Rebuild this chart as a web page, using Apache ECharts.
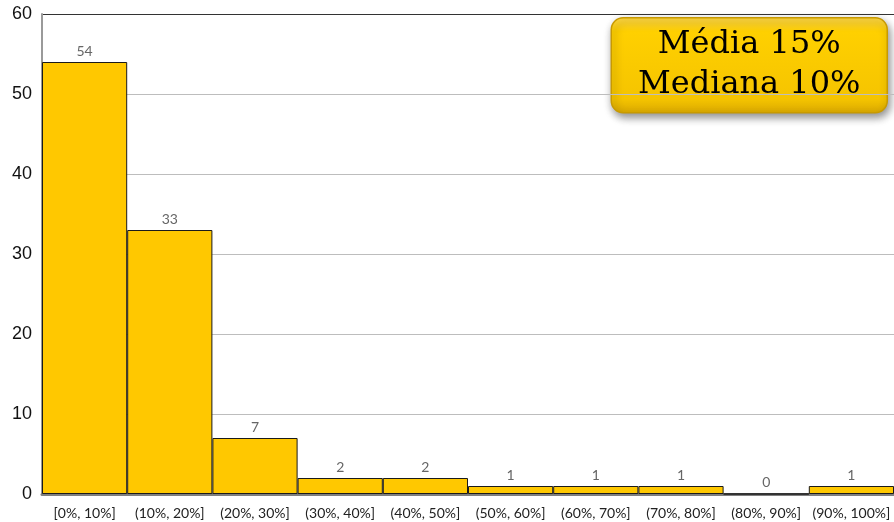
<!DOCTYPE html>
<html>
<head>
<meta charset="utf-8">
<script src="https://cdn.jsdelivr.net/npm/echarts@6/dist/echarts.min.js"></script>
<style>
  html, body { margin: 0; padding: 0; background: #fff; }
  #chart { width: 894px; height: 522px; }
</style>
</head>
<body>
<div id="chart"></div>
<script>
// --- Data ---
const bins = ["[0%, 10%]", "(10%, 20%]", "(20%, 30%]", "(30%, 40%]", "(40%, 50%]",
  "(50%, 60%]", "(60%, 70%]", "(70%, 80%]", "(80%, 90%]", "(90%, 100%]"];
const counts = [54, 33, 7, 2, 2, 1, 1, 1, 0, 1];
const yTicks = [0, 10, 20, 30, 40, 50, 60];
const summaryLines = ["Média 15%", "Mediana 10%"];

// --- Chart ---
const chart = echarts.init(document.getElementById("chart"), null, { renderer: "canvas" });

chart.setOption({
  animation: false,
  grid: { left: 42, right: 0, top: 14, bottom: 28, containLabel: false },
  xAxis: {
    type: "category",
    data: bins,
    axisLine: { show: true, lineStyle: { color: "#7f7f7f", width: 3 } },
    axisTick: { show: false },
    axisLabel: {
      interval: 0,
      color: "#222",
      fontFamily: "Lato",
      fontSize: 14,
      margin: 12
    }
  },
  yAxis: {
    type: "value",
    min: yTicks[0],
    max: yTicks[yTicks.length - 1],
    interval: 10,
    axisLine: { show: true, lineStyle: { color: "#9a9a9a", width: 2 } },
    axisTick: { show: false },
    axisLabel: {
      color: "#111",
      fontFamily: "Liberation Sans",
      fontSize: 18,
      margin: 10,
      padding: [4, 0, 0, 0]
    },
    splitLine: {
      show: true,
      lineStyle: {
        color: ["#bdbdbd", "#bdbdbd", "#bdbdbd", "#bdbdbd", "#bdbdbd", "#bdbdbd", "#333"],
        width: 1
      }
    }
  },
  series: [{
    type: "bar",
    data: counts,
    barCategoryGap: 0,
    itemStyle: { color: "#FFC800", borderColor: "#1a1a1a", borderWidth: 1 },
    label: {
      show: true,
      position: "top",
      distance: 4,
      color: "#666",
      fontFamily: "Lato",
      fontSize: 14
    }
  }],
  graphic: [{
    type: "group",
    right: 6,
    top: 17,
    children: [
      {
        type: "rect",
        shape: { x: 0, y: 0, width: 276, height: 95, r: 12 },
        style: {
          fill: new echarts.graphic.LinearGradient(0, 0, 0, 1, [
            { offset: 0, color: "#FFD84A" },
            { offset: 0.15, color: "#FFD000" },
            { offset: 0.85, color: "#F5C400" },
            { offset: 1, color: "#D9A800" }
          ]),
          stroke: "#C89A00",
          lineWidth: 1.5,
          shadowBlur: 8,
          shadowOffsetX: 2,
          shadowOffsetY: 4,
          shadowColor: "rgba(0,0,0,0.45)"
        }
      },
      {
        type: "text",
        x: 138,
        y: 47,
        style: {
          text: summaryLines.join("\n"),
          align: "center",
          verticalAlign: "middle",
          fill: "#000",
          font: "32px 'DejaVu Serif'",
          lineHeight: 40
        }
      }
    ]
  }]
});
</script>
</body>
</html>
